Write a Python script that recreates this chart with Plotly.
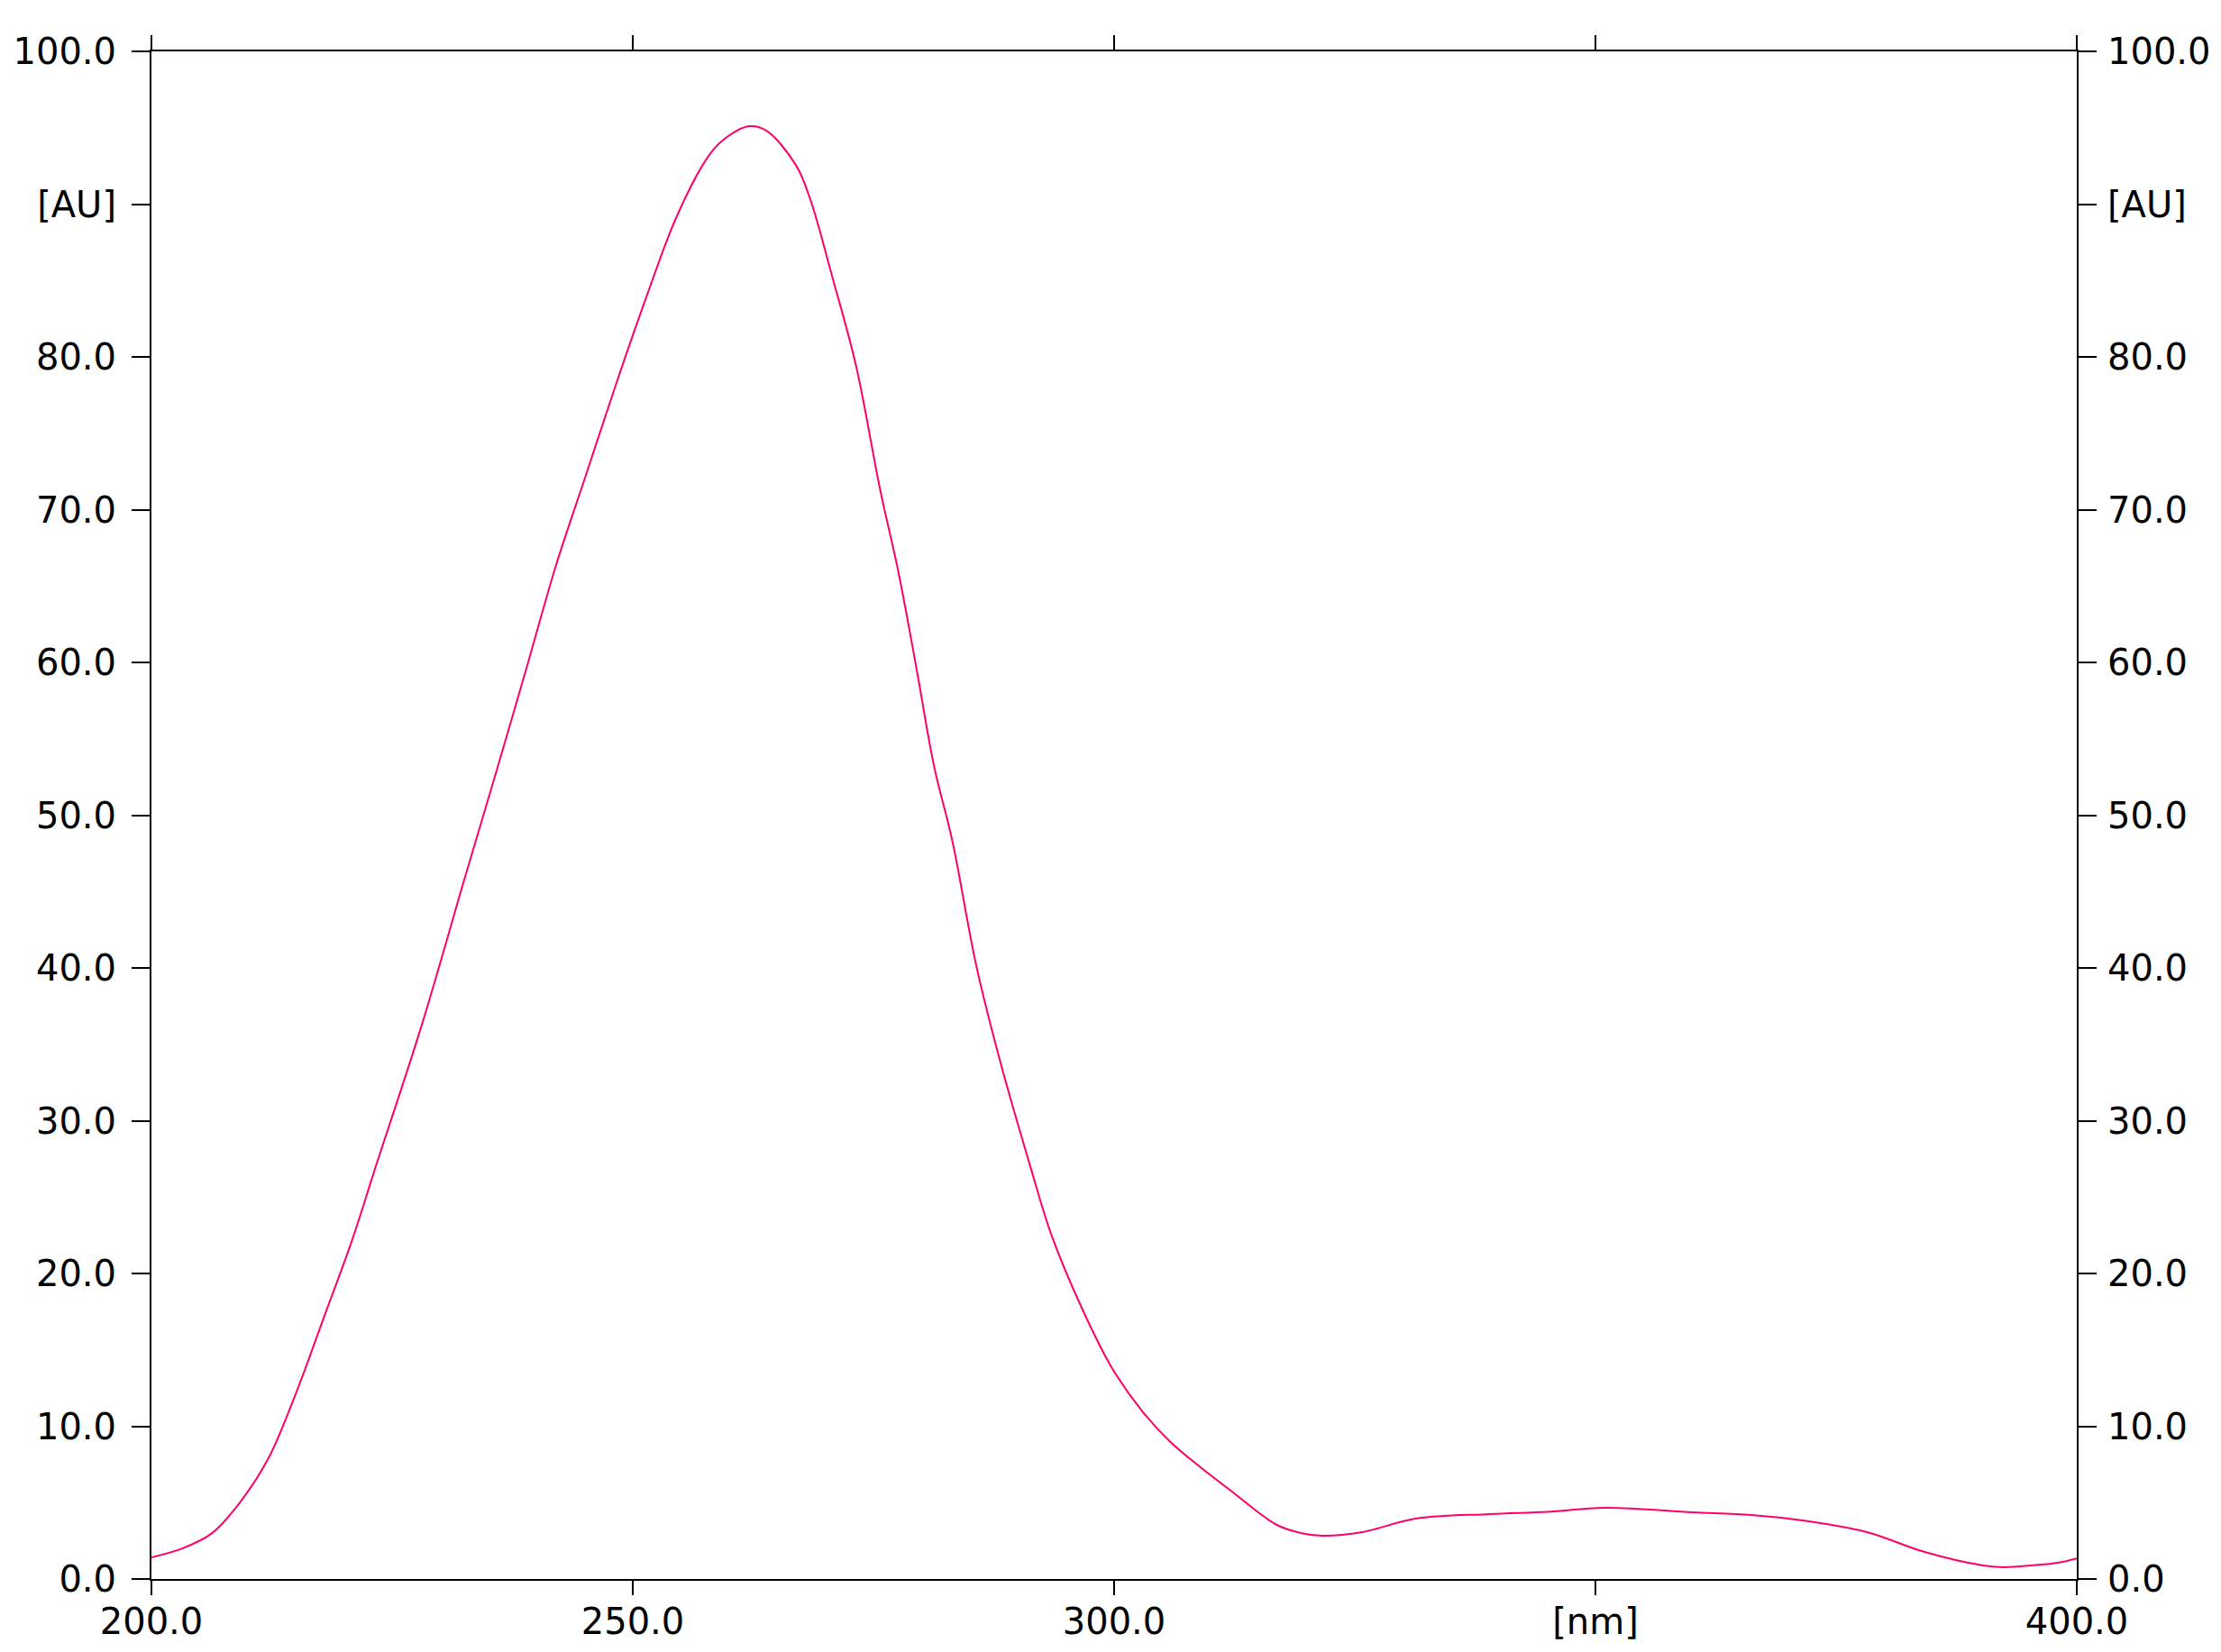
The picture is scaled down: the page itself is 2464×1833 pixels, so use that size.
import plotly.graph_objects as go

# UV spectrum
wavelength = [200.0, 203.2, 206.3, 209.3, 212.2, 215.1, 217.9, 220.8, 223.3, 228.0,
              232.6, 235.8, 238.9, 242.0, 245.1, 248.2, 251.4, 254.5, 257.6, 259.2,
              262.1, 263.9, 267.0, 268.5, 270.7, 273.2, 275.7, 277.6, 279.5, 281.3,
              283.2, 285.7, 288.2, 291.3, 293.5, 296.6, 299.7, 302.9, 305.8,
              309.0, 312.0, 316.9, 319.5, 321.6, 325.8, 331.3, 339.0, 345.0, 351.1,
              360.1, 366.2, 372.2, 378.2, 384.2, 390.3, 392.3, 395.5, 398.0, 400.0]
absorbance = [1.42, 2.0, 3.0, 5.1, 7.96, 12.3, 17.1, 22.1, 27.0, 36.1,
              46.0, 52.8, 59.5, 66.3, 72.2, 78.1, 83.9, 89.1, 92.9, 94.1,
              95.1, 94.8, 92.5, 90.2, 85.3, 79.4, 71.3, 65.9, 59.5, 53.2,
              48.3, 40.1, 33.8, 27.0, 22.5, 17.8, 13.9, 11.0, 9.0,
              7.3, 5.84, 3.54, 3.0, 2.83, 3.07, 3.95, 4.25, 4.4, 4.66,
              4.37, 4.19, 3.77, 3.07, 1.77, 0.88, 0.77, 0.9, 1.06, 1.35]

x_ticks = [200, 250, 300, 350, 400]
x_labels = ["200.0", "250.0", "300.0", "[nm]", "400.0"]
y_ticks = [0, 10, 20, 30, 40, 50, 60, 70, 80, 90, 100]
y_labels = ["0.0", "10.0", "20.0", "30.0", "40.0", "50.0", "60.0", "70.0", "80.0", "[AU]", "100.0"]

fig = go.Figure()
fig.add_trace(go.Scatter(x=wavelength, y=absorbance, mode="lines",
                         line=dict(color="#ff0066", width=2, shape="spline"),
                         showlegend=False))
# same data on the right axis (invisible) so the right-hand scale gets drawn
fig.add_trace(go.Scatter(x=wavelength, y=absorbance, yaxis="y2", mode="lines",
                         line=dict(color="rgba(0,0,0,0)", width=0),
                         hoverinfo="skip", showlegend=False))

font = dict(family="Verdana, DejaVu Sans", size=40, color="black")

axis_style = dict(showgrid=False, zeroline=False, showline=True, linecolor="black", linewidth=2,
                  ticks="outside", tickwidth=2, tickcolor="black", tickfont=font, automargin=False)

# page body has an 8px margin, so the figure is a bit smaller than the window
fig.update_layout(
    width=2448, height=1817,
    margin=dict(l=160, r=152, t=49, b=73),
    plot_bgcolor="white", paper_bgcolor="white",
    font=font,
    xaxis=dict(range=[200, 400], tickvals=x_ticks, ticktext=x_labels,
               ticklen=16, mirror="ticks", ticklabelstandoff=-5, **axis_style),
    yaxis=dict(range=[0, 100], tickvals=y_ticks, ticktext=y_labels,
               ticklen=20, mirror=True, ticklabelstandoff=9, **axis_style),
    yaxis2=dict(range=[0, 100], tickvals=y_ticks, ticktext=y_labels,
                overlaying="y", side="right", anchor="x",
                ticklen=20, ticklabelstandoff=4, **axis_style),
)

fig.write_html("out.html")
